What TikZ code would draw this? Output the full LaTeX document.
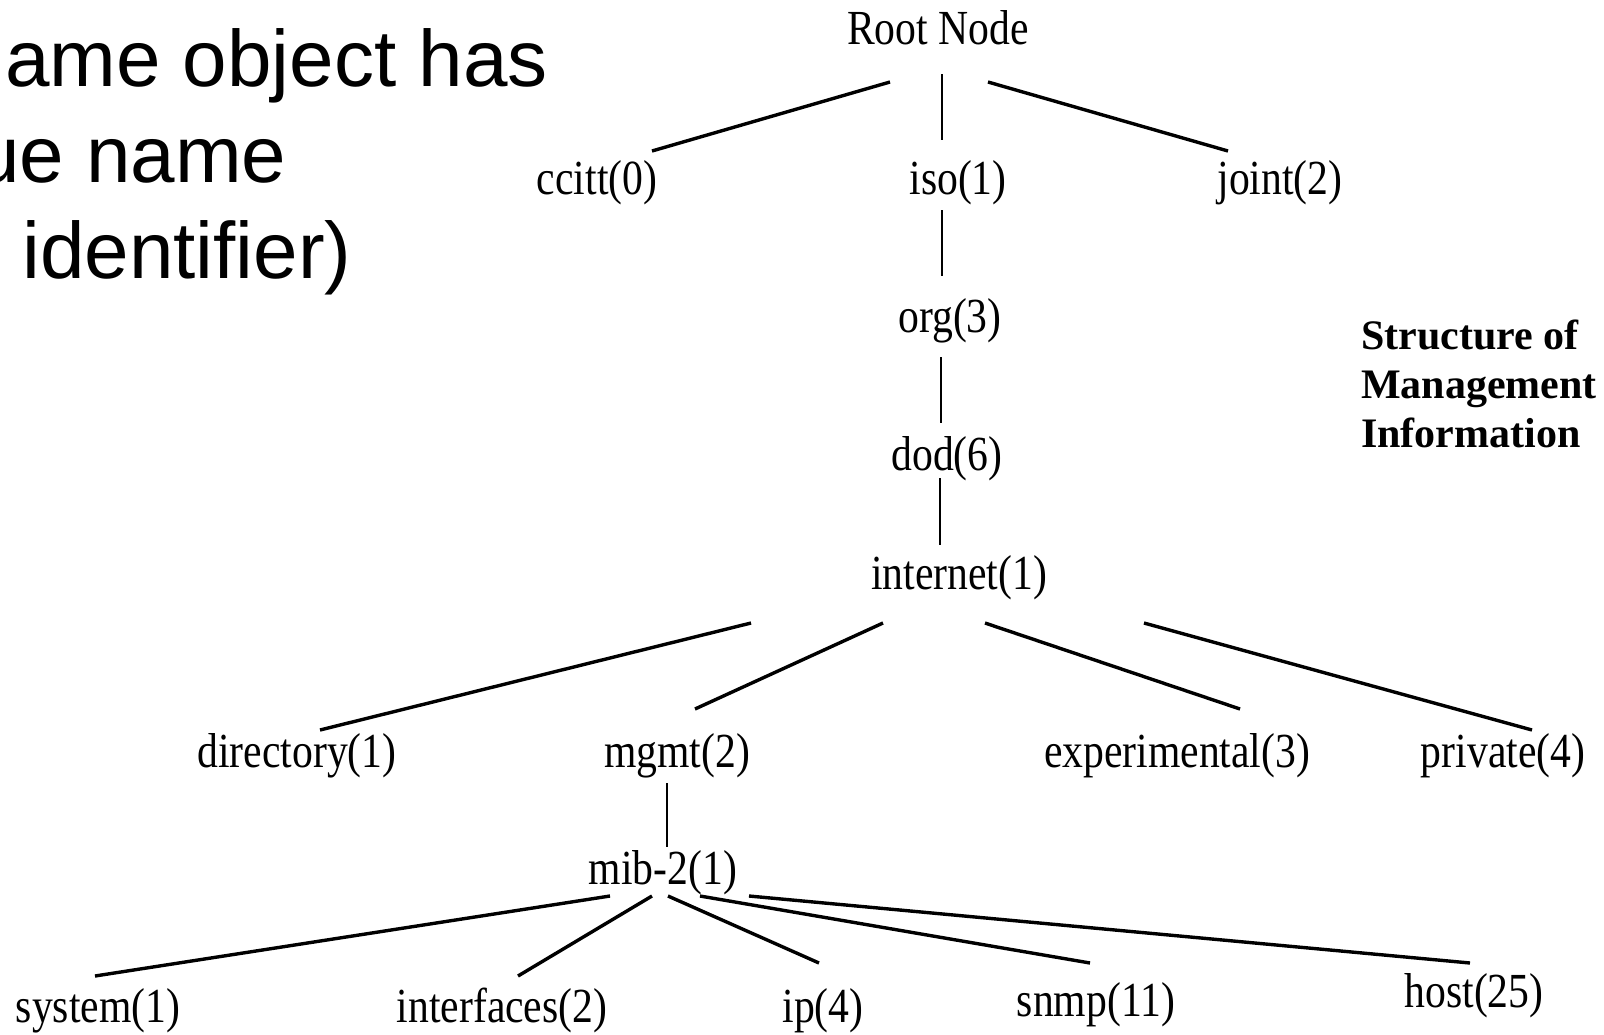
\documentclass[tikz,border=0pt]{standalone}
\usepackage{fontspec}
\usetikzlibrary{calc}
\newfontfamily\treefont{Liberation Serif}[FakeStretch=0.85]
\newfontfamily\titlefont{Liberation Serif}
\newfontfamily\slidefont{Liberation Sans}
\begin{document}
\begin{tikzpicture}[x=1pt,y=-1pt,
  oid/.style={inner sep=0pt,anchor=base,font=\treefont\fontsize{49}{49}\selectfont},
  link/.style={line width=3.4pt},
  stem/.style={line width=2.9pt},
  slide/.style={inner sep=0pt,anchor=base west,font=\slidefont\fontsize{80}{80}\selectfont},
  smi/.style={inner sep=0pt,anchor=base west,font=\titlefont\bfseries\fontsize{42}{42}\selectfont}]
\useasboundingbox (0,0) rectangle (1604,1034);
\fill[white] (0,0) rectangle (1604,1034);

% slide text on the left
\node[slide] (s1) at (5,86) {ame object has};
\node[slide] (s2) at (-25,182) {ue name};
\node[slide] (s3) at (0,278) {\ identifier)};

% caption
\node[smi] (c1) at (1361,349) {Structure of};
\node[smi] (c2) at (1361,398) {Management};
\node[smi] (c3) at (1361,447) {Information};

% OID tree
\node[oid] (root) at (938,44) {Root Node};
\node[oid] (ccitt) at (597,194) {ccitt(0)};
\node[oid] (iso) at (958,194) {iso(1)};
\node[oid] (joint) at (1280,194) {joint(2)};
\node[oid] (org) at (950,332) {org(3)};
\node[oid] (dod) at (947,470) {dod(6)};
\node[oid] (internet) at (959,589) {internet(1)};
\node[oid] (directory) at (297,767) {directory(1)};
\node[oid] (mgmt) at (677,767) {mgmt(2)};
\node[oid] (experimental) at (1177,767) {experimental(3)};
\node[oid] (private) at (1503,767) {private(4)};
\node[oid] (mib) at (663,884) {mib-2(1)};
\node[oid] (system) at (98,1022) {system(1)};
\node[oid] (interfaces) at (502,1022) {interfaces(2)};
\node[oid] (ip) at (823,1022) {ip(4)};
\node[oid] (snmp) at (1096,1016) {snmp(11)};
\node[oid] (host) at (1474,1007) {host(25)};

% branches
\draw[link] ($(root.base)+(-48,38)$) -- ($(ccitt.base)+(55,-43)$);
\draw[stem] ($(root.base)+(4,30)$) -- ($(iso.base)+(-16,-54)$);
\draw[link] ($(root.base)+(50,38)$) -- ($(joint.base)+(-52,-43)$);
\draw[stem] ($(iso.base)+(-16,16)$) -- ($(org.base)+(-8,-56)$);
\draw[stem] ($(org.base)+(-9,25)$) -- ($(dod.base)+(-6,-47)$);
\draw[stem] ($(dod.base)+(-7,8)$) -- ($(internet.base)+(-19,-44)$);
\draw[link] ($(internet.base)+(-208,34)$) -- ($(directory.base)+(23,-37)$);
\draw[link] ($(internet.base)+(-76,34)$) -- ($(mgmt.base)+(18,-58)$);
\draw[link] ($(internet.base)+(26,34)$) -- ($(experimental.base)+(63,-58)$);
\draw[link] ($(internet.base)+(185,34)$) -- ($(private.base)+(29,-37)$);
\draw[stem] ($(mgmt.base)+(-10,16)$) -- ($(mib.base)+(4,-37)$);
\draw[link] ($(mib.base)+(-53,12)$) -- ($(system.base)+(-3,-46)$);
\draw[link] ($(mib.base)+(-11,12)$) -- ($(interfaces.base)+(16,-46)$);
\draw[link] ($(mib.base)+(5,12)$) -- ($(ip.base)+(-4,-59)$);
\draw[link] ($(mib.base)+(37,12)$) -- ($(snmp.base)+(-6,-53)$);
\draw[link] ($(mib.base)+(86,12)$) -- ($(host.base)+(-4,-44)$);
\end{tikzpicture}
\end{document}
